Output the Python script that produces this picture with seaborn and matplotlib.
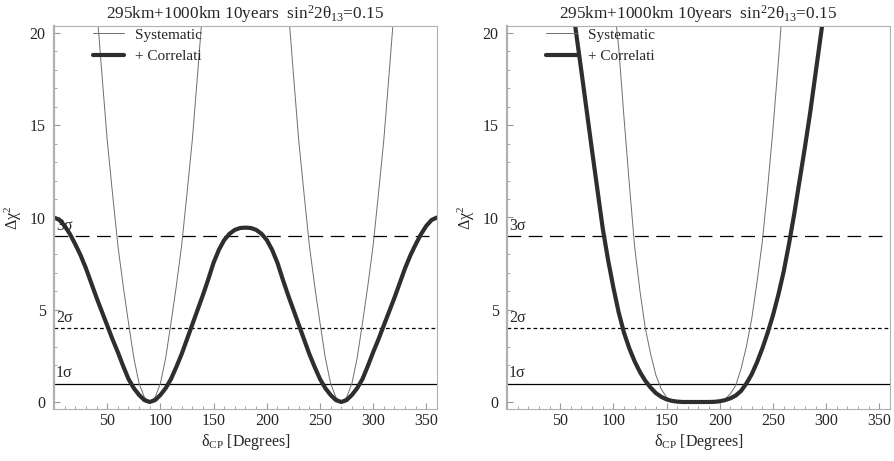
import pandas as pd
import seaborn as sns
import matplotlib.pyplot as plt

# --- data ------------------------------------------------------------------
title = '295km+1000km 10years  sin$^2$2θ$_{13}$=0.15'
legend_labels = ['Systematic', '+ Correlati']

sigma_levels = [1, 4, 9]
sigma_labels = ['1σ', '2σ', '3σ']
sigma_styles = ['-', (0, (3.0, 2.2)), (0, (11, 6))]

x_ticks = [50, 100, 150, 200, 250, 300, 350]
y_ticks = [0, 5, 10, 15, 20]

# left panel, thick curve (0..360 every 5 deg)
left_corr_deg = list(range(0, 361, 5))
left_corr = [10.0, 9.87, 9.55, 9.1, 8.55, 7.95, 7.25, 6.45, 5.65, 4.9,
             4.15, 3.4, 2.7, 1.95, 1.25, 0.75, 0.38, 0.1, 0.0, 0.1,
             0.38, 0.75, 1.25, 1.9, 2.6, 3.4, 4.2, 5.0, 5.8, 6.65,
             7.55, 8.25, 8.78, 9.12, 9.33, 9.43, 9.45, 9.43, 9.33, 9.12,
             8.78, 8.25, 7.55, 6.65, 5.8, 5.0, 4.2, 3.4, 2.6, 1.9,
             1.25, 0.75, 0.38, 0.1, 0.0, 0.1, 0.38, 0.75, 1.25, 1.95,
             2.7, 3.4, 4.15, 4.9, 5.65, 6.45, 7.25, 7.95, 8.55, 9.1,
             9.55, 9.87, 10.0]

# left panel, thin curve: two branches around 90 and 270
left_sys_deg_a = list(range(40, 141, 5))
left_sys_deg_b = list(range(220, 321, 5))
left_sys_a = [21.5, 17.8, 14.2, 11.3, 8.5, 6.3, 4.3, 2.4, 1.0, 0.25, 0.0,
              0.25, 1.0, 2.4, 4.3, 6.3, 8.5, 11.3, 14.2, 17.8, 21.5]
left_sys_b = [21.5, 17.8, 14.2, 11.3, 8.5, 6.3, 4.3, 2.4, 1.0, 0.25, 0.0,
              0.25, 1.0, 2.4, 4.3, 6.3, 8.5, 11.3, 14.2, 17.8, 21.5]

# right panel, thick curve (60..300 every 5 deg)
right_corr_deg = list(range(60, 301, 5))
right_corr = [22.2, 20.0, 17.9, 15.75, 13.6, 11.5, 9.4, 7.7, 6.2, 4.85,
              3.75, 2.9, 2.2, 1.62, 1.15, 0.78, 0.48, 0.28, 0.14, 0.06,
              0.02, 0.0, 0.0, 0.0, 0.0, 0.0, 0.0, 0.01, 0.04, 0.1,
              0.2, 0.35, 0.6, 1.0, 1.5, 2.15, 2.9, 3.75, 4.7, 5.8,
              7.05, 8.55, 10.2, 12.0, 13.8, 15.7, 17.8, 19.9, 22.0]

# right panel, thin curve (100..260 every 5 deg)
right_sys_deg = list(range(100, 261, 5))
right_sys = [22.0, 19.2, 15.4, 11.8, 8.4, 6.0, 4.0, 2.6, 1.45, 0.7,
             0.25, 0.07, 0.01, 0.0, 0.0, 0.0, 0.0, 0.0, 0.0, 0.01,
             0.04, 0.15, 0.45, 0.9, 1.8, 3.0, 4.5, 6.5, 8.7, 11.6,
             14.8, 18.4, 22.2]

# --- style ---------------------------------------------------------------
sns.set_style('white')
plt.rcParams['font.family'] = ['Liberation Serif', 'DejaVu Serif']
plt.rcParams['mathtext.fontset'] = 'custom'
plt.rcParams['mathtext.rm'] = 'Liberation Serif'
plt.rcParams['mathtext.it'] = 'Liberation Serif:italic'

fs = 11.5
thin_color = '#6e6e6e'
thick_color = '#2e2e2e'

fig = plt.figure(figsize=(8.95, 4.61), dpi=100)
ax_l = fig.add_axes([54 / 895, 52 / 461, 383 / 895, 383 / 461])
ax_r = fig.add_axes([507 / 895, 52 / 461, 383 / 895, 383 / 461])

panels = [
    (ax_l, [(left_sys_deg_a, left_sys_a), (left_sys_deg_b, left_sys_b)],
     (left_corr_deg, left_corr)),
    (ax_r, [(right_sys_deg, right_sys)], (right_corr_deg, right_corr)),
]

for ax, sys_branches, (c_deg, c_val) in panels:
    for i, (s_deg, s_val) in enumerate(sys_branches):
        sns.lineplot(x=s_deg, y=s_val, ax=ax, color=thin_color, linewidth=0.7,
                     label=legend_labels[0] if i == 0 else None, legend=False)
    sns.lineplot(x=c_deg, y=c_val, ax=ax, color=thick_color, linewidth=3.0,
                 label=legend_labels[1], legend=False)

    for lev, lab, ls in zip(sigma_levels, sigma_labels, sigma_styles):
        ax.axhline(lev, color='black', linewidth=0.9, linestyle=ls, zorder=1)
        ax.text(2, lev + 0.12, lab, fontsize=fs, ha='left', va='bottom')

    ax.set_xlim(0, 360)
    ax.set_ylim(-0.38, 20.38)
    ax.set_xticks(x_ticks)
    ax.set_yticks(y_ticks)
    ax.set_xticks(range(10, 360, 10), minor=True)
    ax.set_yticks(range(0, 21, 1), minor=True)
    ax.tick_params(which='both', direction='in', color='#999999',
                   left=True, bottom=True, top=False, right=False)
    ax.tick_params(which='major', length=4, width=0.8, labelsize=fs)
    ax.tick_params(which='minor', length=2.2, width=0.6)
    ax.tick_params(axis='x', pad=3)
    ax.tick_params(axis='y', pad=6)
    for side, sp in ax.spines.items():
        sp.set_color('#b0b0b0')
        sp.set_linewidth(1.6 if side == 'left' else 0.8)

    ax.set_xlabel('δ$_{\\mathrm{CP}}$ [Degrees]', fontsize=fs, labelpad=2)
    ax.set_ylabel('Δχ$^2$', fontsize=fs, labelpad=4)
    ax.set_title(title, fontsize=12.4, pad=5)

    handles, labels = ax.get_legend_handles_labels()
    leg = ax.legend(handles[:2], labels[:2], loc='upper left',
                    bbox_to_anchor=(0.102, 0.995), frameon=False,
                    fontsize=11, handlelength=2.0, handletextpad=0.75,
                    labelspacing=0.5, borderaxespad=0, borderpad=0)

fig.savefig('out.png', dpi=100)
